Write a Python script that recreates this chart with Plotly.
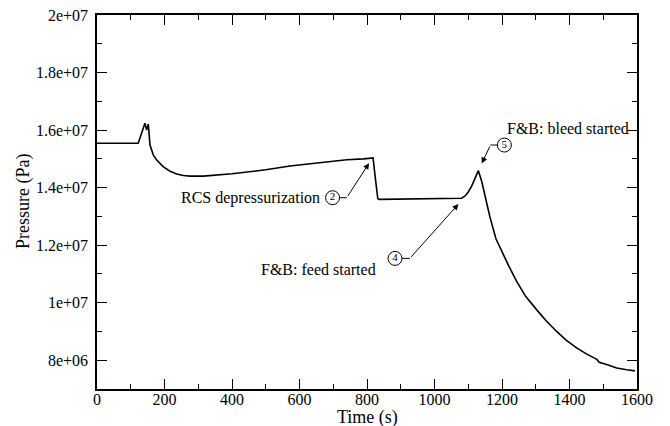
import plotly.graph_objects as go

# Primary-side pressure transient
time_s = [0, 122, 142, 147, 152, 157, 167, 177, 196, 215, 236, 256, 276, 315,
          400, 453, 500, 572, 650, 740, 790, 818, 824, 832, 836, 900, 1000,
          1080, 1090, 1100, 1110, 1120, 1130, 1140, 1152, 1164, 1182, 1200,
          1220, 1243, 1270, 1303, 1330, 1362, 1390, 1421, 1450, 1481, 1488,
          1510, 1540, 1570, 1594]
pressure_pa = [1.554e7, 1.554e7, 1.624e7, 1.600e7, 1.621e7, 1.548e7, 1.513e7,
               1.496e7, 1.473e7, 1.458e7, 1.447e7, 1.442e7, 1.440e7, 1.440e7,
               1.448e7, 1.455e7, 1.462e7, 1.475e7, 1.486e7, 1.497e7, 1.500e7,
               1.503e7, 1.440e7, 1.362e7, 1.359e7, 1.360e7, 1.361e7,
               1.363e7, 1.370e7, 1.385e7, 1.405e7, 1.430e7, 1.459e7, 1.421e7,
               1.360e7, 1.299e7, 1.222e7, 1.175e7, 1.128e7, 1.075e7, 1.022e7,
               9.75e6, 9.38e6, 9.00e6, 8.70e6, 8.43e6, 8.22e6, 8.03e6, 7.93e6,
               7.85e6, 7.73e6, 7.67e6, 7.63e6]

y_tick_values = [8e6, 1e7, 1.2e7, 1.4e7, 1.6e7, 1.8e7, 2e7]
y_tick_labels = ["8e+06", "1e+07", "1.2e+07", "1.4e+07", "1.6e+07", "1.8e+07", "2e+07"]

x_title = "Time (s)"
y_title = "Pressure (Pa)"

# Event call-outs: circled number, its position, leader elbow and arrow tip
callout_numbers = ["2", "4", "5"]
callout_t = [698, 883, 1207]
callout_p = [1.365e7, 1.154e7, 1.548e7]
elbow_t = [740, 927, 1166]
tip_t = [806, 1071, 1140]
tip_p = [1.485e7, 1.343e7, 1.484e7]

event_texts = ["RCS depressurization", "F&B: feed started", "F&B: bleed started"]
event_t = [667, 833, 1209]
event_p = [1.365e7, 1.114e7, 1.607e7]
event_anchor = ["right", "right", "left"]

FONT = "Liberation Serif, Times New Roman, serif"

fig = go.Figure()

fig.add_trace(go.Scatter(x=time_s, y=pressure_pa, mode="lines",
                         line=dict(color="black", width=1.6),
                         hoverinfo="skip", showlegend=False))

# leader lines from each circle to its elbow
for ct, cp, et in zip(callout_t, callout_p, elbow_t):
    fig.add_trace(go.Scatter(x=[ct, et], y=[cp, cp], mode="lines",
                             line=dict(color="black", width=1),
                             hoverinfo="skip", showlegend=False))

fig.add_trace(go.Scatter(x=callout_t, y=callout_p, mode="markers+text",
                         text=callout_numbers, textposition="middle center",
                         textfont=dict(family=FONT, size=11, color="black"),
                         marker=dict(symbol="circle", size=14, color="white",
                                     line=dict(color="black", width=1)),
                         hoverinfo="skip", showlegend=False))

for et, cp, tt, tp in zip(elbow_t, callout_p, tip_t, tip_p):
    fig.add_annotation(x=tt, y=tp, ax=et, ay=cp, axref="x", ayref="y",
                       xref="x", yref="y", text="", showarrow=True,
                       arrowhead=2, arrowsize=1.2, arrowwidth=1,
                       arrowcolor="black", standoff=0, startstandoff=0)

for txt, t, p, anc in zip(event_texts, event_t, event_p, event_anchor):
    fig.add_annotation(x=t, y=p, xref="x", yref="y", text=txt,
                       showarrow=False, xanchor=anc, yanchor="middle",
                       font=dict(family=FONT, size=16, color="black"))

# axis titles placed just outside the plotting frame
fig.add_annotation(x=0.5, y=-0.077, xref="paper", yref="paper", text=x_title,
                   showarrow=False, xanchor="center", yanchor="middle",
                   font=dict(family=FONT, size=18, color="black"))
fig.add_annotation(x=-0.137, y=0.5, xref="paper", yref="paper", text=y_title,
                   showarrow=False, xanchor="center", yanchor="middle",
                   textangle=-90,
                   font=dict(family=FONT, size=18, color="black"))

axis_common = dict(showline=True, linecolor="black", linewidth=1.5,
                   mirror="ticks", ticks="inside", ticklen=10, tickwidth=1.3,
                   tickcolor="black", showgrid=False, zeroline=False,
                   automargin=False,
                   tickfont=dict(family=FONT, size=16, color="black"))

fig.update_xaxes(range=[0, 1600], tickmode="linear", tick0=0, dtick=200,
                 ticklabelstandoff=-5,
                 minor=dict(tickmode="linear", tick0=0, dtick=100,
                            ticks="inside", ticklen=5, tickcolor="black",
                            tickwidth=1.3, showgrid=False),
                 **axis_common)
fig.update_yaxes(range=[7e6, 2e7], tickmode="array", tickvals=y_tick_values,
                 ticktext=y_tick_labels, ticklabelstandoff=4,
                 minor=dict(tickmode="linear", tick0=0, dtick=1e6,
                            ticks="inside", ticklen=5, tickcolor="black",
                            tickwidth=1.3, showgrid=False),
                 **axis_common)

fig.update_layout(width=670, height=426,
                  margin=dict(l=97, r=33, t=15, b=37),
                  plot_bgcolor="white", paper_bgcolor="white",
                  showlegend=False)

fig.write_html("out.html")
